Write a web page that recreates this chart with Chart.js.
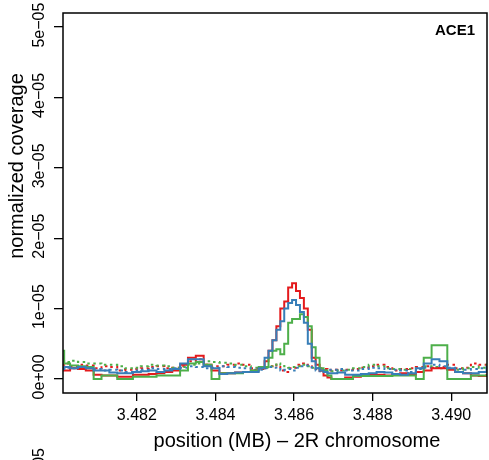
<!DOCTYPE html>
<html>
<head>
<meta charset="utf-8">
<script src="https://cdn.jsdelivr.net/npm/chart.js@4/dist/chart.umd.min.js"></script>
<style>
  body { margin: 0; background: #fff; }
  #wrap { width: 489px; height: 460px; }
</style>
</head>
<body>
<div id="wrap"><canvas id="myCanvas" width="489" height="460"></canvas></div>
<script>
// position along 2R (MB)
var positions = [3.4801, 3.4802, 3.4804, 3.4806, 3.4808, 3.4810, 3.4812, 3.4814, 3.4816, 3.4818, 3.4820,
  3.4822, 3.4824, 3.4826, 3.4828, 3.4830, 3.4832, 3.4834, 3.4836, 3.4838, 3.4840,
  3.4842, 3.4844, 3.4846, 3.4848, 3.4850, 3.4852, 3.4853, 3.4854, 3.4855, 3.4856,
  3.4857, 3.4858, 3.4859, 3.4860, 3.4861, 3.4862, 3.4863, 3.4864, 3.4865, 3.4866,
  3.4867, 3.4868, 3.4869, 3.4870, 3.4872, 3.4874, 3.4876, 3.4878, 3.4880, 3.4882,
  3.4884, 3.4886, 3.4888, 3.4890, 3.4892, 3.4894, 3.4896, 3.4898, 3.4900, 3.4902,
  3.4904, 3.4906, 3.4908, 3.4910]

// normalized coverage, in units of 1e-05
var redSolid = [0.15, 0.12, 0.15, 0.14, 0.12, 0.06, 0.05, 0.05, 0.03, 0.03, 0.06,
  0.06, 0.07, 0.08, 0.10, 0.12, 0.20, 0.30, 0.33, 0.20, 0.12,
  0.08, 0.08, 0.09, 0.10, 0.12, 0.15, 0.25, 0.40, 0.55, 0.75,
  1.00, 1.10, 1.30, 1.36, 1.25, 1.15, 1.00, 0.70, 0.30, 0.20,
  0.12, 0.05, 0.02, 0.00, 0.00, 0.02, 0.03, 0.05, 0.06, 0.06,
  0.05, 0.07, 0.08, 0.06, 0.10, 0.12, 0.15, 0.15, 0.13, 0.10,
  0.08, 0.05, 0.04, 0.06]
var blueSolid = [0.14, 0.17, 0.15, 0.17, 0.15, 0.12, 0.12, 0.09, 0.08, 0.08, 0.10,
  0.11, 0.12, 0.10, 0.12, 0.14, 0.22, 0.28, 0.28, 0.18, 0.15,
  0.07, 0.08, 0.09, 0.10, 0.10, 0.15, 0.30, 0.40, 0.55, 0.70,
  0.82, 1.00, 1.08, 1.12, 1.05, 0.95, 0.80, 0.50, 0.25, 0.15,
  0.12, 0.10, 0.08, 0.08, 0.09, 0.06, 0.06, 0.07, 0.08, 0.10,
  0.09, 0.07, 0.06, 0.08, 0.15, 0.22, 0.28, 0.25, 0.15, 0.10,
  0.08, 0.08, 0.10, 0.14]
var greenSolid = [0.40, 0.22, 0.19, 0.18, 0.17, 0.00, 0.05, 0.05, 0.00, 0.00, 0.03,
  0.03, 0.03, 0.05, 0.05, 0.05, 0.12, 0.22, 0.24, 0.20, 0.00,
  0.08, 0.08, 0.08, 0.10, 0.12, 0.17, 0.17, 0.30, 0.40, 0.42,
  0.35, 0.50, 0.80, 0.85, 0.85, 0.92, 0.88, 0.75, 0.45, 0.30,
  0.15, 0.12, 0.05, 0.00, 0.00, 0.00, 0.04, 0.04, 0.04, 0.04,
  0.04, 0.05, 0.05, 0.05, 0.00, 0.30, 0.48, 0.48, 0.00, 0.00,
  0.00, 0.05, 0.05, 0.05]
var redDot = [0.20, 0.22, 0.18, 0.20, 0.19, 0.15, 0.18, 0.17, 0.12, 0.13, 0.14,
  0.15, 0.17, 0.18, 0.15, 0.16, 0.18, 0.25, 0.28, 0.20, 0.18,
  0.18, 0.20, 0.22, 0.20, 0.15, 0.14, 0.17, 0.18, 0.20, 0.17,
  0.12, 0.10, 0.15, 0.16, 0.20, 0.22, 0.20, 0.18, 0.15, 0.14,
  0.15, 0.14, 0.12, 0.13, 0.12, 0.13, 0.14, 0.16, 0.18, 0.20,
  0.17, 0.12, 0.14, 0.15, 0.17, 0.18, 0.16, 0.17, 0.20, 0.15,
  0.16, 0.22, 0.20, 0.15]
var blueDot = [0.15, 0.16, 0.15, 0.17, 0.16, 0.14, 0.12, 0.13, 0.12, 0.10, 0.12,
  0.13, 0.15, 0.14, 0.14, 0.15, 0.16, 0.18, 0.17, 0.15, 0.16,
  0.18, 0.17, 0.16, 0.15, 0.13, 0.13, 0.15, 0.17, 0.16, 0.14,
  0.12, 0.13, 0.14, 0.12, 0.16, 0.18, 0.19, 0.17, 0.14, 0.12,
  0.11, 0.12, 0.13, 0.13, 0.14, 0.12, 0.12, 0.14, 0.16, 0.15,
  0.14, 0.13, 0.12, 0.10, 0.14, 0.16, 0.20, 0.18, 0.16, 0.14,
  0.13, 0.14, 0.15, 0.17]
var greenDot = [0.25, 0.24, 0.26, 0.24, 0.22, 0.22, 0.20, 0.20, 0.18, 0.15, 0.16,
  0.18, 0.20, 0.19, 0.18, 0.16, 0.17, 0.20, 0.22, 0.25, 0.24,
  0.23, 0.22, 0.20, 0.18, 0.16, 0.15, 0.16, 0.18, 0.20, 0.22,
  0.20, 0.18, 0.16, 0.17, 0.18, 0.20, 0.20, 0.18, 0.16, 0.15,
  0.12, 0.10, 0.10, 0.11, 0.12, 0.13, 0.15, 0.17, 0.20, 0.18,
  0.15, 0.14, 0.13, 0.14, 0.15, 0.18, 0.17, 0.15, 0.14, 0.13,
  0.15, 0.17, 0.16, 0.20]

var xTicks = [3.482, 3.484, 3.486, 3.488, 3.490]
var yTicks = [0, 1, 2, 3, 4, 5]
var yTickLabels = ["0e+00", "1e\u221205", "2e\u221205", "3e\u221205", "4e\u221205", "5e\u221205"]

var red = '#E41A1C', blue = '#377EB8', green = '#4DAF4A'
var font = "'Liberation Sans', Arial, Helvetica, sans-serif"

function pts(vals) {
  return positions.map(function (p, i) { return { x: p, y: vals[i] } })
}

function line(vals, color, dotted, order) {
  return {
    data: pts(vals),
    borderColor: color,
    borderWidth: 2,
    borderDash: dotted ? [2.5, 3.5] : [],
    pointRadius: 0,
    stepped: 'middle',
    fill: false,
    order: order
  }
}

var rPlot = {
  id: 'rPlot',
  afterDraw: function (chart) {
    var c = chart.ctx, a = chart.chartArea, ys = chart.scales.y
    c.save()
    c.strokeStyle = '#000'
    c.lineWidth = 1.5
    c.strokeRect(a.left, a.top, a.right - a.left, a.bottom - a.top)
    c.fillStyle = '#000'
    c.textAlign = 'center'
    c.textBaseline = 'middle'
    c.font = '16px ' + font
    yTicks.forEach(function (v, i) {
      c.save()
      c.translate(40, ys.getPixelForValue(v) - 2)
      c.rotate(-Math.PI / 2)
      c.fillText(yTickLabels[i], 0, 0)
      c.restore()
    })
    // label of the panel below, cut off by the image edge
    c.save()
    c.translate(40, 448)
    c.rotate(-Math.PI / 2)
    c.textAlign = 'right'
    c.fillText(yTickLabels[5], 0, 0)
    c.restore()
    c.font = '20px ' + font
    c.fillText('position (MB) \u2013 2R chromosome', 297, 441)
    c.save()
    c.translate(17, 166)
    c.rotate(-Math.PI / 2)
    c.fillText('normalized coverage', 0, 0)
    c.restore()
    c.font = 'bold 15px ' + font
    c.fillText('ACE1', 455, 31)
    c.restore()
  }
}

var ctx = document.getElementById("myCanvas")
var myChart = new Chart(ctx, {
  type: 'line',
  data: {
    datasets: [
      line(redDot, red, true, 6),
      line(greenDot, green, true, 5),
      line(blueDot, blue, true, 4),
      line(redSolid, red, false, 3),
      line(greenSolid, green, false, 2),
      line(blueSolid, blue, false, 1)
    ]
  },
  options: {
    responsive: false,
    animation: false,
    events: [],
    layout: { padding: { top: 13, right: 2, left: 0, bottom: 0 } },
    plugins: { legend: { display: false }, tooltip: { enabled: false } },
    scales: {
      x: {
        type: 'linear',
        min: 3.48012,
        max: 3.49091,
        afterBuildTicks: function (s) { s.ticks = xTicks.map(function (v) { return { value: v } }) },
        afterFit: function (s) { s.height = 67 },
        ticks: {
          color: '#000',
          font: { size: 16, family: font },
          padding: 5,
          maxRotation: 0,
          autoSkip: false,
          callback: function (v) { return v.toFixed(3) }
        },
        grid: { drawOnChartArea: false, drawTicks: true, tickLength: 8, color: '#000', lineWidth: 1.3 },
        border: { display: false }
      },
      y: {
        min: -0.2,
        max: 5.2,
        afterBuildTicks: function (s) { s.ticks = yTicks.map(function (v) { return { value: v } }) },
        afterFit: function (s) { s.width = 63 },
        ticks: { display: false },
        grid: { drawOnChartArea: false, drawTicks: true, tickLength: 9, color: '#000', lineWidth: 1.3 },
        border: { display: false }
      }
    }
  },
  plugins: [rPlot]
})
</script>
</body>
</html>
